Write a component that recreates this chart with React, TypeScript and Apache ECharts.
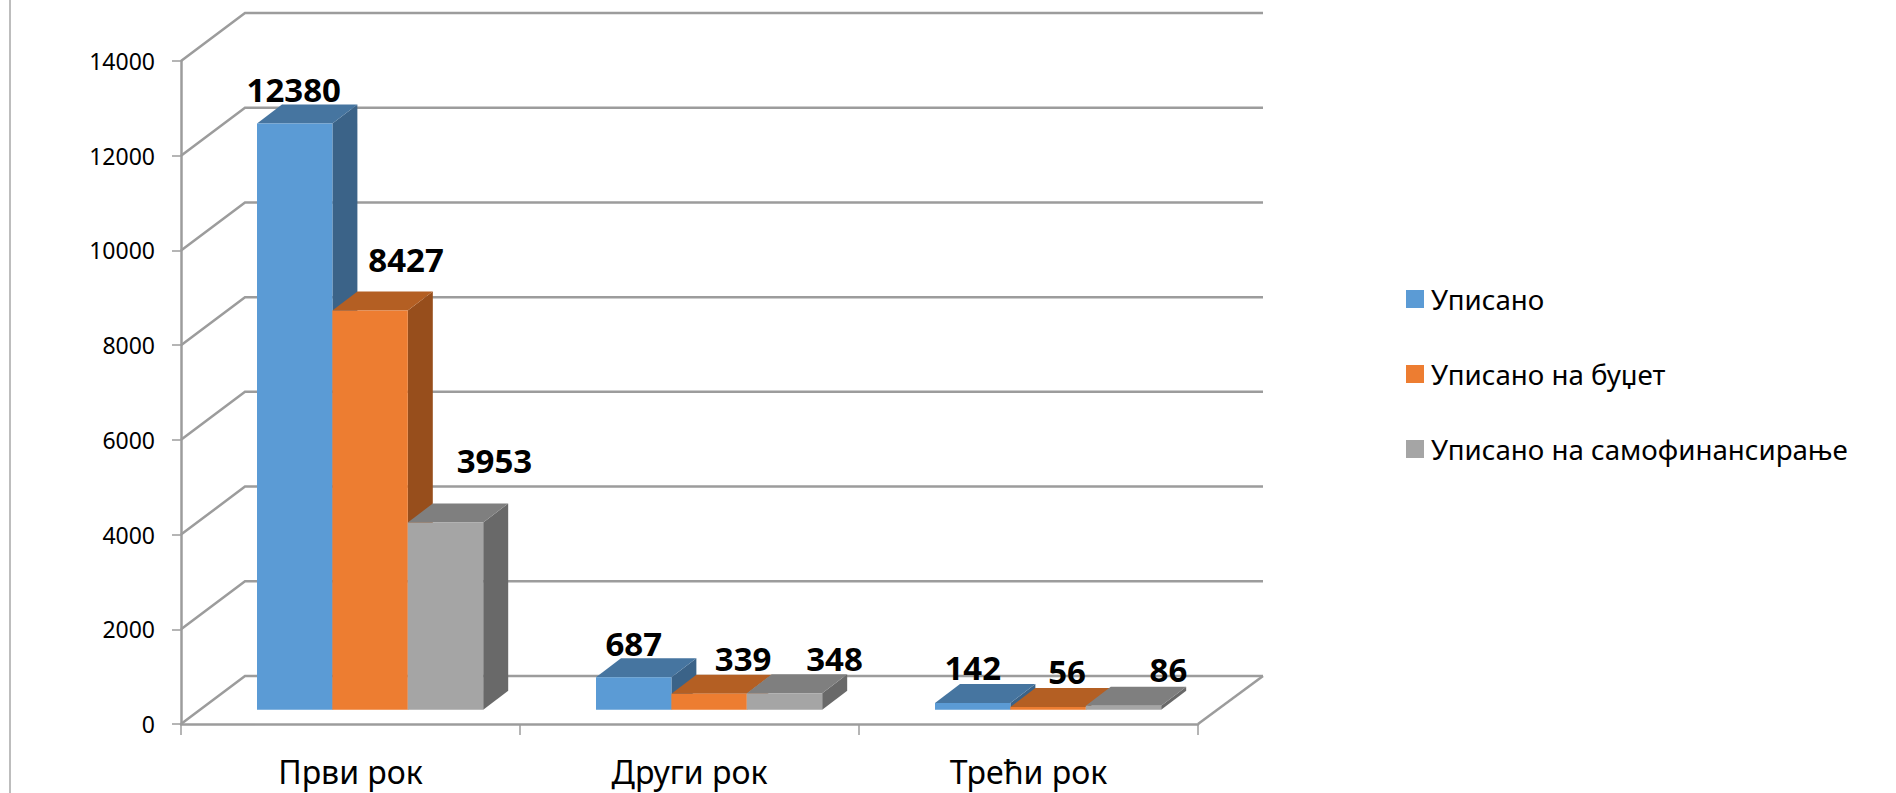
import React, { useEffect, useRef } from "react";
import * as echarts from "echarts";

const categories = ["Први рок", "Други рок", "Трећи рок"];
const seriesNames = ["Уписано", "Уписано на буџет", "Уписано на самофинансирање"];
const upisano = [12380, 687, 142];
const budzet = [8427, 339, 56];
const samofin = [3953, 348, 86];
const yTicks = [0, 2000, 4000, 6000, 8000, 10000, 12000, 14000];

const frontColors = ["#5B9BD5", "#ED7D31", "#A5A5A5"];
const topColors = ["#4675A0", "#B45F23", "#7F7F7F"];
const sideColors = ["#3B6388", "#974E1C", "#696969"];
const FONT = "'Noto Sans', sans-serif";
const LINE = "#9c9c9c";

// Layout of the pseudo-3D drawing, in pixels
const WALL_DX = 64;
const WALL_DY = 48;
const BAR_DX = 25;
const BAR_DY = 19;
const BAR_W = 75.4;
const GROUP_INSET = 76;
const FLOOR_INSET = 14.3;
// label shift from the bar's front-top centre, per series and category
const labelShift = [
  [[-1, -34], [0, -34], [0, -35]],
  [[36, -51], [34, -35], [19, -36]],
  [[49, -62], [50, -35], [45, -36]],
];

const barRender = (s: number) => (params: any, api: any) => {
  const cat = api.value(0);
  const val = api.value(1);
  const catW = api.size([1, 0])[0];
  const c = api.coord([cat, val]);
  const zero = api.coord([cat, 0]);
  const x = c[0] - catW / 2 + GROUP_INSET + s * BAR_W;
  const base = zero[1] - FLOOR_INSET;
  const top = base - (zero[1] - c[1]);
  const shift = labelShift[s][cat];
  return {
    type: "group",
    children: [
      {
        type: "polygon",
        shape: { points: [[x + BAR_W, top], [x + BAR_W + BAR_DX, top - BAR_DY], [x + BAR_W + BAR_DX, base - BAR_DY], [x + BAR_W, base]] },
        style: { fill: sideColors[s] },
      },
      {
        type: "polygon",
        shape: { points: [[x, top], [x + BAR_DX, top - BAR_DY], [x + BAR_W + BAR_DX, top - BAR_DY], [x + BAR_W, top]] },
        style: { fill: topColors[s] },
      },
      { type: "rect", shape: { x, y: top, width: BAR_W, height: base - top }, style: { fill: frontColors[s] } },
      {
        type: "text",
        z2: 100,
        style: {
          x: x + BAR_W / 2 + shift[0],
          y: top + shift[1],
          text: String(val),
          fill: "#000",
          font: `bold 33px ${FONT}`,
          align: "center",
          verticalAlign: "middle",
        },
      },
    ],
  };
};

const frameRender = (params: any, api: any) => {
  const v = api.value(1);
  const y = api.coord([0, v])[1];
  const cs = params.coordSys;
  const lineStyle = { stroke: LINE, lineWidth: 2.5, fill: "none" };
  const children: any[] = [
    {
      type: "polyline",
      shape: { points: [[cs.x, y], [cs.x + WALL_DX, y - WALL_DY], [cs.x + cs.width + WALL_DX + 1, y - WALL_DY]] },
      style: lineStyle,
    },
  ];
  if (v === 0) {
    children.push({
      type: "line",
      shape: { x1: cs.x + cs.width, y1: y, x2: cs.x + cs.width + WALL_DX + 1, y2: y - WALL_DY },
      style: lineStyle,
    });
  }
  return { type: "group", children };
};

export default function App() {
  const ref = useRef<HTMLDivElement>(null);
  useEffect(() => {
    const chart = echarts.init(ref.current!, undefined, { renderer: "svg" });
    const seriesData = [upisano, budzet, samofin];
    chart.setOption({
      animation: false,
      backgroundColor: "#fff",
      legend: {
        orient: "vertical",
        left: 1401,
        top: 280,
        itemWidth: 18,
        itemHeight: 18,
        itemGap: 47,
        icon: "rect",
        data: seriesNames,
        selectedMode: false,
        textStyle: { fontFamily: FONT, fontSize: 27.7, color: "#000", padding: [0, 0, 0, 2] },
      },
      grid: { left: 181, top: 61, width: 1017, height: 663, containLabel: false },
      xAxis: {
        type: "category",
        data: categories,
        axisLine: { show: true, lineStyle: { color: LINE, width: 2.5 } },
        axisTick: { show: true, alignWithLabel: false, length: 11, lineStyle: { color: LINE, width: 1.5 } },
        axisLabel: { fontFamily: FONT, fontSize: 32, color: "#000", margin: 31 },
      },
      yAxis: {
        type: "value",
        min: 0,
        max: 14000,
        interval: 2000,
        splitLine: { show: false },
        axisLine: { show: true, lineStyle: { color: LINE, width: 2.5 } },
        axisTick: { show: true, length: 9, lineStyle: { color: LINE, width: 1.5 } },
        axisLabel: { fontFamily: FONT, fontSize: 23, color: "#000", margin: 26, formatter: (v: number) => String(v) },
      },
      series: [
        {
          type: "custom",
          name: "frame",
          silent: true,
          z: 1,
          clip: false,
          encode: { x: 0, y: 1 },
          data: yTicks.map((t) => [0, t]),
          renderItem: frameRender,
        },
        ...seriesNames.map((name, s) => ({
          type: "custom",
          name,
          z: 3 + s,
          clip: false,
          encode: { x: 0, y: 1 },
          itemStyle: { color: frontColors[s] },
          data: seriesData[s].map((v, i) => [i, v]),
          renderItem: barRender(s),
        })),
      ],
      graphic: [
        {
          type: "line",
          shape: { x1: 10, y1: 0, x2: 10, y2: 793 },
          style: { stroke: "#bdbdbd", lineWidth: 2 },
        },
      ],
    });
    return () => chart.dispose();
  }, []);
  return <div ref={ref} style={{ position: "absolute", left: 0, top: 0, width: 1896, height: 793 }} />;
}
